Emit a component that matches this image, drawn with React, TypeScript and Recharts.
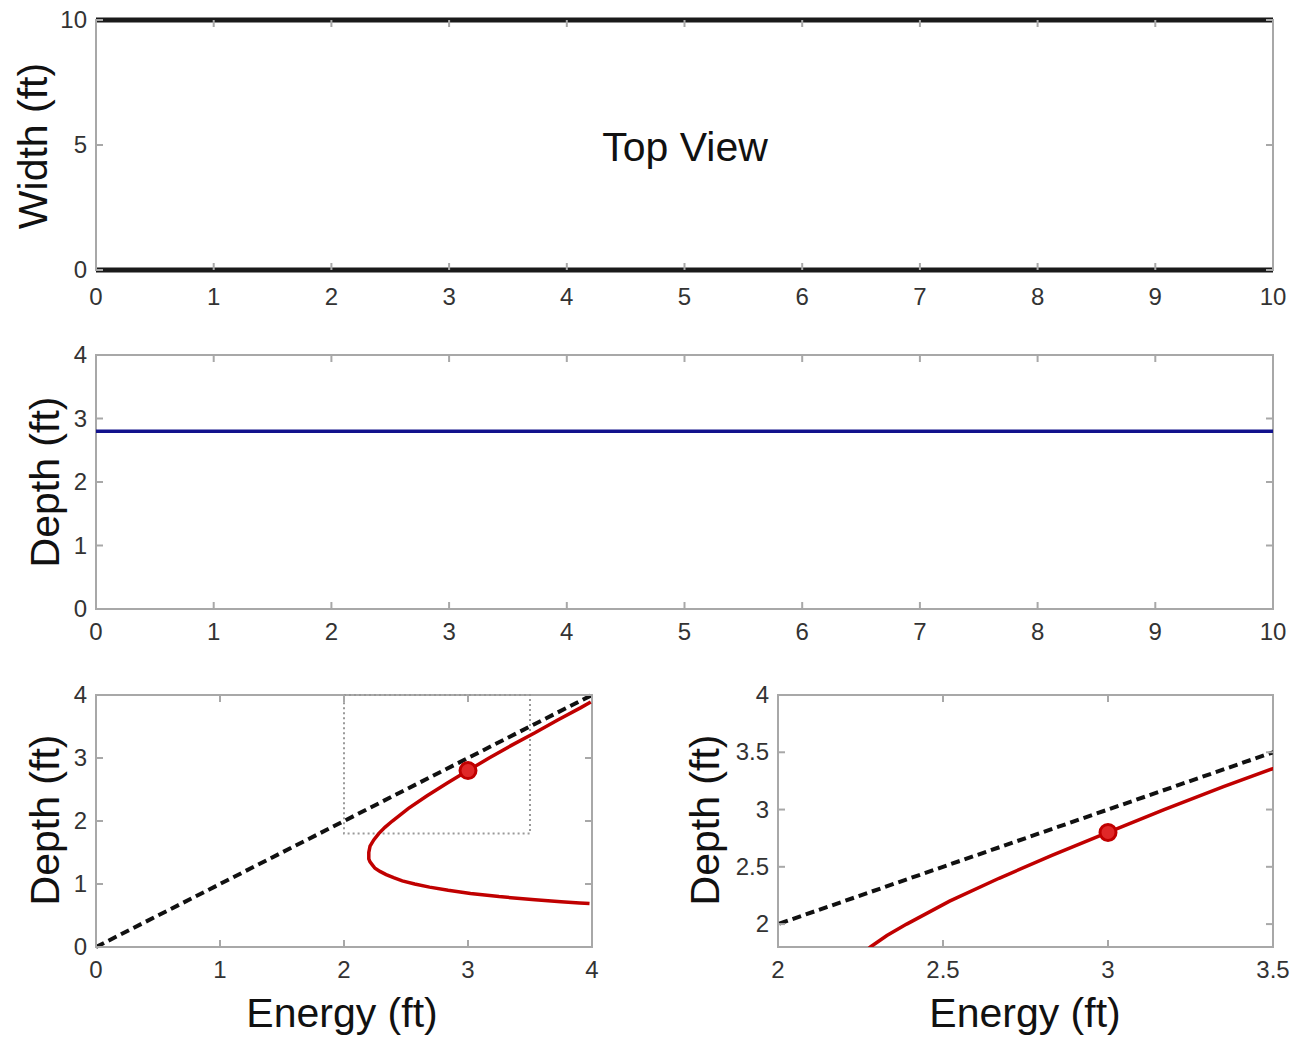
import { ComposedChart, Line, Scatter, XAxis, YAxis, ReferenceArea } from 'recharts'

const stationTicks = [0, 1, 2, 3, 4, 5, 6, 7, 8, 9, 10]
const widthTicks = [0, 5, 10]
const depthTicks = [0, 1, 2, 3, 4]
const energyTicks = [0, 1, 2, 3, 4]
const zoomEnergyTicks = [2, 2.5, 3, 3.5]
const zoomDepthTicks = [2, 2.5, 3, 3.5, 4]

// channel plan and profile
const wallStation = [0, 10]
const leftBank = [10, 10]
const rightBank = [0, 0]
const surfaceDepth = [2.8, 2.8]

// E = y reference line
const lineEnergy = [0, 4]
const lineDepth = [0, 4]

// specific energy curve (lower branch -> upper branch)
const curveEnergy = [
  3.98, 3.9, 3.75, 3.54, 3.25, 3.02, 2.84, 2.69, 2.57, 2.47, 2.4, 2.34, 2.29, 2.25, 2.23, 2.21,
  2.2, 2.2, 2.2, 2.21, 2.24, 2.28, 2.33, 2.39, 2.52, 2.67, 2.83, 3.0, 3.17, 3.35, 3.54, 3.72,
  3.91, 3.99,
]
const curveDepth = [
  0.69, 0.7, 0.72, 0.75, 0.8, 0.85, 0.9, 0.95, 1.0, 1.05, 1.1, 1.15, 1.2, 1.25, 1.3, 1.35, 1.4,
  1.45, 1.5, 1.6, 1.7, 1.8, 1.9, 2.0, 2.2, 2.4, 2.6, 2.8, 3.0, 3.2, 3.4, 3.6, 3.8, 3.89,
]

const stateEnergy = [3]
const stateDepth = [2.8]

// zoom window shown in the right panel
const zoomEnergy = [2, 3.5]
const zoomDepth = [1.8, 4]

const toPoints = (xs: number[], ys: number[]) => xs.map((x, i) => ({ x, y: ys[i] }))

const AXIS = '#a8a8a8'
const FONT = '"Liberation Sans", Arial, sans-serif'
const Y_W = 60
const X_H = 40

const fmt = (v: number) => String(v)

function XTick(props: any) {
  const { x, y, payload, span, gap } = props
  return (
    <g>
      <line x1={x} y1={y} x2={x} y2={y - 7} stroke={AXIS} strokeWidth={2} />
      <line x1={x} y1={y - span} x2={x} y2={y - span + 7} stroke={AXIS} strokeWidth={2} />
      <text x={x} y={y + gap} textAnchor="middle" fontSize={24} fill="#333" fontFamily={FONT}>
        {fmt(payload.value)}
      </text>
    </g>
  )
}

function YTick(props: any) {
  const { x, y, payload, span } = props
  return (
    <g>
      <line x1={x} y1={y} x2={x + 7} y2={y} stroke={AXIS} strokeWidth={2} />
      <line x1={x + span} y1={y} x2={x + span - 7} y2={y} stroke={AXIS} strokeWidth={2} />
      <text x={x - 9} y={y + 8} textAnchor="end" fontSize={24} fill="#333" fontFamily={FONT}>
        {fmt(payload.value)}
      </text>
    </g>
  )
}

function StateMarker(props: any) {
  const { cx, cy } = props
  return <circle cx={cx} cy={cy} r={8} fill="#e02828" stroke="#c00000" strokeWidth={3} />
}

function Title({ x, y, text, rotate }: { x: number; y: number; text: string; rotate?: boolean }) {
  return (
    <div
      style={{
        position: 'absolute',
        left: x,
        top: y,
        transform: `translate(-50%, -50%)${rotate ? ' rotate(-90deg)' : ''}`,
        whiteSpace: 'nowrap',
        fontFamily: FONT,
        fontSize: 41,
        lineHeight: 1,
        color: '#111',
      }}
    >
      {text}
    </div>
  )
}

function Axes({ xDomain, yDomain, xTicks, yTicks, xSpan, ySpan, gap, clip }: any) {
  return [
    <XAxis
      key="x"
      type="number"
      dataKey="x"
      domain={xDomain}
      ticks={xTicks}
      height={X_H}
      allowDataOverflow={!!clip}
      interval={0}
      axisLine={false}
      tickLine={false}
      tickSize={0}
      tickMargin={0}
      tick={(p: any) => <XTick {...p} span={xSpan} gap={gap} />}
    />,
    <YAxis
      key="y"
      type="number"
      dataKey="y"
      domain={yDomain}
      ticks={yTicks}
      width={Y_W}
      allowDataOverflow={!!clip}
      interval={0}
      axisLine={false}
      tickLine={false}
      tickSize={0}
      tickMargin={0}
      tick={(p: any) => <YTick {...p} span={ySpan} />}
    />,
  ]
}

export default function App() {
  const curve = toPoints(curveEnergy, curveDepth)
  const ref45 = toPoints(lineEnergy, lineDepth)
  const state = toPoints(stateEnergy, stateDepth)

  return (
    <div style={{ position: 'absolute', left: 0, top: 0, width: 1294, height: 1037, background: '#fff' }}>
      {/* Top view */}
      <div style={{ position: 'absolute', left: 0, top: 0 }}>
        <ComposedChart width={1294} height={330} margin={{ top: 20, right: 21, bottom: 60 - X_H, left: 96 - Y_W }}>
          {Axes({ xDomain: [0, 10], yDomain: [0, 10], xTicks: stationTicks, yTicks: widthTicks, xSpan: 250, ySpan: 1177, gap: 35 })}
          <ReferenceArea x1={0} x2={10} y1={0} y2={10} fill="none" stroke={AXIS} strokeWidth={2} />
          <Line data={toPoints(wallStation, leftBank)} dataKey="y" stroke="#1a1a1a" strokeWidth={5} dot={false} isAnimationActive={false} />
          <Line data={toPoints(wallStation, rightBank)} dataKey="y" stroke="#1a1a1a" strokeWidth={5} dot={false} isAnimationActive={false} />
        </ComposedChart>
      </div>

      {/* Profile */}
      <div style={{ position: 'absolute', left: 0, top: 335 }}>
        <ComposedChart width={1294} height={330} margin={{ top: 20, right: 21, bottom: 56 - X_H, left: 96 - Y_W }}>
          {Axes({ xDomain: [0, 10], yDomain: [0, 4], xTicks: stationTicks, yTicks: depthTicks, xSpan: 254, ySpan: 1177, gap: 31 })}
          <ReferenceArea x1={0} x2={10} y1={0} y2={4} fill="none" stroke={AXIS} strokeWidth={2} />
          <Line data={toPoints(wallStation, surfaceDepth)} dataKey="y" stroke="#12128c" strokeWidth={3.5} dot={false} isAnimationActive={false} />
        </ComposedChart>
      </div>

      {/* Specific energy */}
      <div style={{ position: 'absolute', left: 0, top: 675 }}>
        <ComposedChart width={640} height={362} margin={{ top: 20, right: 48, bottom: 90 - X_H, left: 96 - Y_W }}>
          {Axes({ xDomain: [0, 4], yDomain: [0, 4], xTicks: energyTicks, yTicks: depthTicks, xSpan: 252, ySpan: 496, gap: 31 })}
          <ReferenceArea x1={0} x2={4} y1={0} y2={4} fill="none" stroke={AXIS} strokeWidth={2} />
          <ReferenceArea
            x1={zoomEnergy[0]}
            x2={zoomEnergy[1]}
            y1={zoomDepth[0]}
            y2={zoomDepth[1]}
            fill="none"
            stroke="#999"
            strokeWidth={2}
            strokeDasharray="2 3"
          />
          <Line data={ref45} dataKey="y" stroke="#111" strokeWidth={4} strokeDasharray="9 5" dot={false} isAnimationActive={false} />
          <Line data={curve} dataKey="y" stroke="#c00000" strokeWidth={3.5} dot={false} isAnimationActive={false} />
          <Scatter data={state} dataKey="y" shape={<StateMarker />} isAnimationActive={false} />
        </ComposedChart>
      </div>

      {/* Zoomed specific energy */}
      <div style={{ position: 'absolute', left: 640, top: 675 }}>
        <ComposedChart width={654} height={362} margin={{ top: 20, right: 21, bottom: 90 - X_H, left: 138 - Y_W }}>
          {Axes({ xDomain: zoomEnergy, yDomain: zoomDepth, xTicks: zoomEnergyTicks, yTicks: zoomDepthTicks, xSpan: 252, ySpan: 495, gap: 31, clip: true })}
          <ReferenceArea x1={zoomEnergy[0]} x2={zoomEnergy[1]} y1={zoomDepth[0]} y2={zoomDepth[1]} fill="none" stroke={AXIS} strokeWidth={2} />
          <Line data={ref45} dataKey="y" stroke="#111" strokeWidth={4} strokeDasharray="9 5" dot={false} isAnimationActive={false} />
          <Line data={curve} dataKey="y" stroke="#c00000" strokeWidth={3.5} dot={false} isAnimationActive={false} />
          <Scatter data={state} dataKey="y" shape={<StateMarker />} isAnimationActive={false} />
        </ComposedChart>
      </div>

      <Title x={685} y={147} text="Top View" />
      <Title x={33} y={146} text="Width (ft)" rotate />
      <Title x={45} y={482} text="Depth (ft)" rotate />
      <Title x={45} y={820} text="Depth (ft)" rotate />
      <Title x={705} y={820} text="Depth (ft)" rotate />
      <Title x={342} y={1013} text="Energy (ft)" />
      <Title x={1025} y={1013} text="Energy (ft)" />
    </div>
  )
}
